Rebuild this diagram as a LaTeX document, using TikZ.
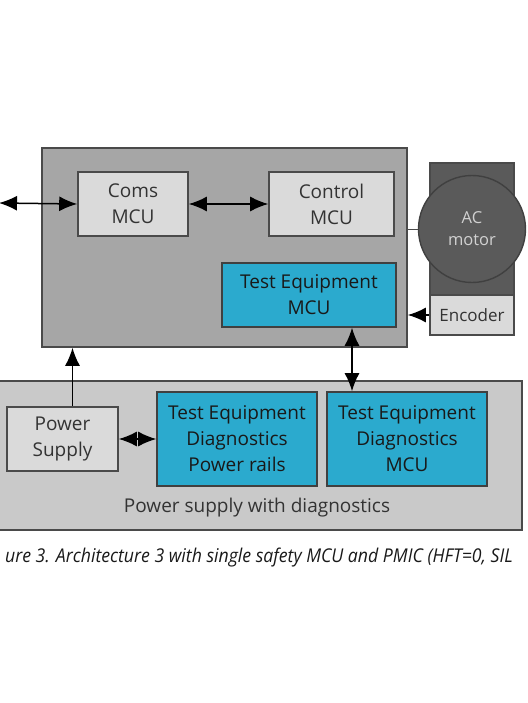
\documentclass[tikz,border=0pt]{standalone}
\usepackage{fontspec}
\setsansfont{Open Sans}
\newfontfamily\capfont{Open Sans}[FakeStretch=0.93]
\usepackage{xcolor}
\usepackage{tikz}
\usetikzlibrary{arrows.meta,positioning,calc}

\definecolor{ecugray}{HTML}{A6A6A6}
\definecolor{psgray}{HTML}{C9C9C9}
\definecolor{boxgray}{HTML}{DADADA}
\definecolor{tealblue}{HTML}{2BAACE}
\definecolor{motorgray}{HTML}{5A5A5A}
\definecolor{edgegray}{HTML}{4A4A4A}

\begin{document}
\begin{tikzpicture}[
    x=1pt, y=-1pt,
    font=\sffamily\fontsize{19}{26}\selectfont,
    outerbox/.style={rectangle, draw=edgegray, line width=1.6pt, inner sep=0pt},
    mcu/.style={rectangle, draw=edgegray, fill=boxgray, line width=1.6pt, text=black!80, align=center, minimum height=64pt, inner sep=2pt},
    testblock/.style={rectangle, draw=black!75, fill=tealblue, line width=1.6pt, text=black!90, align=center, inner sep=2pt},
    line/.style={draw, line width=1.5pt, -{Latex[length=18pt,width=15pt]}},
    biline/.style={draw, line width=1.5pt, {Latex[length=18pt,width=15pt]}-{Latex[length=18pt,width=15pt]}}
]
    \useasboundingbox (0,0) rectangle (527,703);
    \clip (0,0) rectangle (527,703);

    % Power supply board
    \node[outerbox, fill=psgray, minimum width=527pt, minimum height=149pt] (psboard) at (258.5,455.5) {};
    \node[text=black!80] (pslabel) at (257,508) {Power supply with diagnostics};

    % Main controller board
    \node[outerbox, fill=ecugray, minimum width=365pt, minimum height=199pt] (ecu) at (224.5,247.5) {};

    % Motor and encoder
    \node[rectangle, draw=edgegray, fill=motorgray, line width=1.2pt, minimum width=84pt, minimum height=132pt] (motorbox) at (472,229) {};
    \node[circle, draw=black!75, fill=motorgray, line width=1.4pt, minimum size=107pt, text=black!18, align=center, font=\sffamily\fontsize{16.5}{22}\selectfont] (motor) at (472,229) {AC\\motor};
    \node[rectangle, draw=edgegray, fill=boxgray, line width=1.2pt, minimum width=84pt, minimum height=40pt, text=black!80, font=\sffamily\fontsize{17}{22}\selectfont] (encoder) at (472,315) {Encoder};

    % Processors on the main board
    \node[mcu, minimum width=110pt] (coms) at (133,204) {Coms\\MCU};
    \node[mcu, minimum width=125pt] (control) at (331.5,204) {Control\\MCU};
    \node[testblock, minimum width=174pt, minimum height=64pt] (temcu) at (309,295) {Test Equipment\\MCU};

    % Blocks on the power supply board
    \node[mcu, minimum width=111pt] (psu) at (62.5,439) {Power\\Supply};
    \node[testblock, minimum width=160pt, minimum height=94pt] (rails) at (237,439) {Test Equipment\\Diagnostics\\Power rails};
    \node[testblock, minimum width=160pt, minimum height=94pt] (tedmcu) at (407,439) {Test Equipment\\Diagnostics\\MCU};

    % Caption
    \node[font=\capfont\itshape\fontsize{19}{22}\selectfont, text=black!90] (caption) at (259,558) {ure 3. Architecture 3 with single safety MCU and PMIC (HFT=0, SIL};

    % Connections
    \coordinate (extcom) at (-1,203);
    \path[biline] (extcom) -- (coms.west);
    \path[biline] (coms.east) -- (control.west);
    \draw[edgegray, line width=1pt] (motor.west) -- (motor.west -| ecu.east);
    \path[line] (encoder.west) -- (encoder.west -| ecu.east);
    \path[line] ([xshift=10pt]psu.north) -- ([xshift=10pt]psu.north |- ecu.south);
    \path[biline] (psu.east) -- (rails.west);
    \path[biline] ([xshift=43pt]temcu.south) -- ([xshift=43pt]temcu.south |- tedmcu.north);
\end{tikzpicture}
\end{document}
